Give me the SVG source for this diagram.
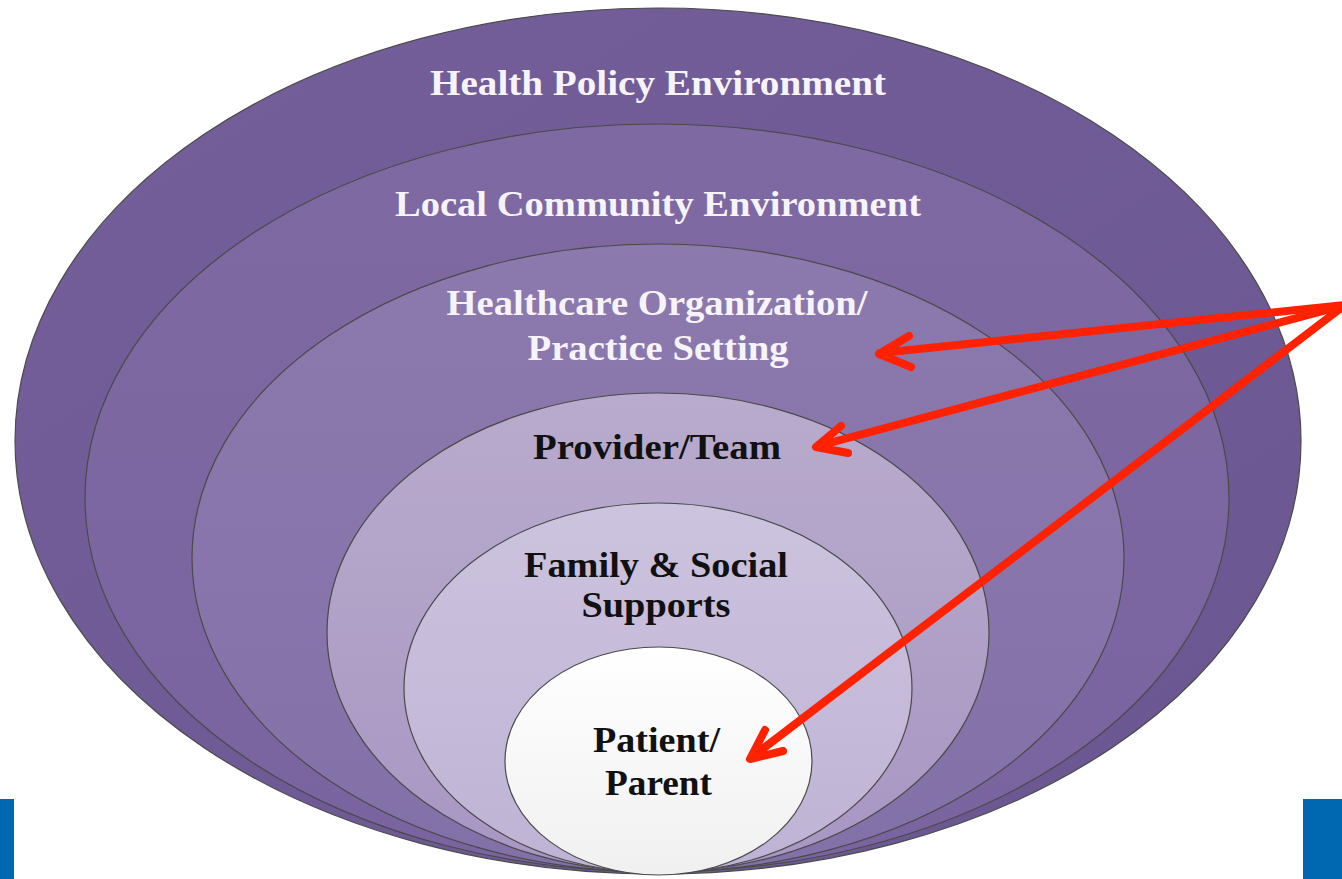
<svg xmlns="http://www.w3.org/2000/svg" width="1342" height="879" viewBox="0 0 1342 879">
<defs>
<linearGradient id="g1" x1="0" y1="0" x2="1" y2="1"><stop offset="0" stop-color="#745F9A"/><stop offset="1" stop-color="#6A5690"/></linearGradient>
<linearGradient id="g2" x1="0" y1="0" x2="0" y2="1"><stop offset="0" stop-color="#7E69A2"/><stop offset="1" stop-color="#7A64A0"/></linearGradient>
<linearGradient id="g3" x1="0" y1="0" x2="0" y2="1"><stop offset="0" stop-color="#8C7AAE"/><stop offset="1" stop-color="#8270A8"/></linearGradient>
<linearGradient id="g4" x1="0" y1="0" x2="0" y2="1"><stop offset="0" stop-color="#B9ABCD"/><stop offset="1" stop-color="#A796C2"/></linearGradient>
<linearGradient id="g5" x1="0" y1="0" x2="0" y2="1"><stop offset="0" stop-color="#CCC3DE"/><stop offset="1" stop-color="#BFB3D5"/></linearGradient>
<linearGradient id="g6" x1="0" y1="0" x2="0" y2="1"><stop offset="0" stop-color="#FFFFFF"/><stop offset="1" stop-color="#F0F0F0"/></linearGradient>
</defs>
<style>
.ring{stroke:#4A4A4A;stroke-width:1.2}
.lt{font-family:"Liberation Serif",serif;font-weight:bold;font-size:36px;fill:#F6F4FA;text-anchor:middle}
.dk{font-family:"Liberation Serif",serif;font-weight:bold;font-size:36px;fill:#111111;text-anchor:middle}
.arr{fill:none;stroke:#FF2200;stroke-width:8;stroke-linecap:round;stroke-linejoin:round}
.bar{fill:#0068B0}
</style>
<rect class="bar" x="0" y="799" width="14" height="80"/>
<rect class="bar" x="1303" y="799" width="39" height="80"/>
<g id="health-policy">
<ellipse class="ring" cx="658" cy="441" rx="643" ry="433" fill="url(#g1)"/>
<text class="lt" x="658" y="95" textLength="456" lengthAdjust="spacingAndGlyphs">Health Policy Environment</text>
</g>
<g id="local-community">
<ellipse class="ring" cx="657" cy="498" rx="572" ry="374" fill="url(#g2)"/>
<text class="lt" x="658" y="216" textLength="526" lengthAdjust="spacingAndGlyphs">Local Community Environment</text>
</g>
<g id="healthcare-org">
<ellipse class="ring" cx="658" cy="558" rx="466" ry="314" fill="url(#g3)"/>
<text class="lt" x="657" y="315" textLength="421" lengthAdjust="spacingAndGlyphs">Healthcare Organization/</text>
<text class="lt" x="658" y="360" textLength="261" lengthAdjust="spacingAndGlyphs">Practice Setting</text>
</g>
<g id="provider-team">
<ellipse class="ring" cx="658" cy="632.5" rx="331" ry="239.5" fill="url(#g4)"/>
<text class="dk" x="657" y="459" textLength="248" lengthAdjust="spacingAndGlyphs">Provider/Team</text>
</g>
<g id="family-social">
<ellipse class="ring" cx="658" cy="688" rx="254" ry="185" fill="url(#g5)"/>
<text class="dk" x="656" y="577" textLength="264" lengthAdjust="spacingAndGlyphs">Family &amp; Social</text>
<text class="dk" x="656" y="617" textLength="149" lengthAdjust="spacingAndGlyphs">Supports</text>
</g>
<g id="patient-parent">
<ellipse class="ring" cx="658.5" cy="761" rx="153.5" ry="114" fill="url(#g6)"/>
<text class="dk" x="656.5" y="752" textLength="127" lengthAdjust="spacingAndGlyphs">Patient/</text>
<text class="dk" x="658.5" y="795" textLength="107" lengthAdjust="spacingAndGlyphs">Parent</text>
</g>
<g id="connectors">
<path class="arr" d="M1345,305 L880,353 M909,336 L879,354 L911,367"/>
<path class="arr" d="M1345,305 L818,446 M841,426 L816,447 L848,453"/>
<path class="arr" d="M1345,305 L752,757 M765,730 L750,759 L783,751"/>
</g>
</svg>
